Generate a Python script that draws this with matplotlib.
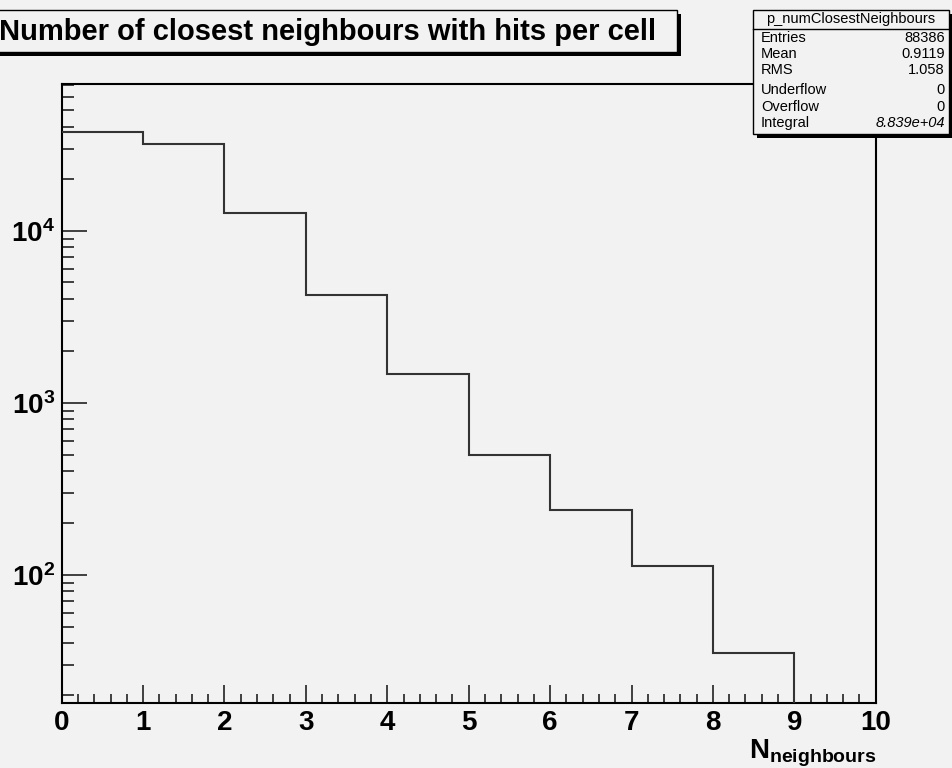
import math
import matplotlib
matplotlib.use("Agg")
import matplotlib.pyplot as plt
from matplotlib.patches import Rectangle
from matplotlib.ticker import FixedLocator, LogLocator, NullFormatter, FuncFormatter

# ---- data ----
bin_edges = [0, 1, 2, 3, 4, 5, 6, 7, 8, 9, 10]
counts = [37300, 31900, 12600, 4220, 1460, 494, 237, 113, 35, 0]
x_ticks = [0, 1, 2, 3, 4, 5, 6, 7, 8, 9, 10]
y_ticks = [1e2, 1e3, 1e4]
title = "Number of closest neighbours with hits per cell"
hist_name = "p_numClosestNeighbours"
stat_names = ["Entries", "Mean", "RMS", "Underflow", "Overflow", "Integral"]
stat_values = ["88386", "0.9119", "1.058", "0", "0", "8.839e+04"]
y_range = (17.9, 71200)

plt.rcParams['font.family'] = ['Liberation Sans', 'DejaVu Sans']
plt.rcParams['mathtext.fontset'] = 'custom'
plt.rcParams['mathtext.bf'] = 'Liberation Sans:bold'
plt.rcParams['mathtext.rm'] = 'Liberation Sans'
plt.rcParams['mathtext.it'] = 'Liberation Sans:italic'

W, H = 953, 768
BG = '#f2f2f2'
fig = plt.figure(figsize=(W / 100, H / 100), dpi=100, facecolor=BG)

def fx(x):
    return x / W

def fy(y):
    return 1 - y / H

left, right, top, bottom = 61.7, 875.7, 84, 703.3
ax = fig.add_axes([fx(left), fy(bottom), fx(right) - fx(left), fy(top) - fy(bottom)])
ax.set_facecolor(BG)
ax.set_yscale('log')

ax.stairs(counts, bin_edges, baseline=None, color='#333333', linewidth=1.5, zorder=3)

ax.set_xlim(bin_edges[0], bin_edges[-1])
ax.set_ylim(*y_range)

for s in ax.spines.values():
    s.set_linewidth(1.5)
    s.set_color('black')

ax.xaxis.set_major_locator(FixedLocator(x_ticks))
ax.xaxis.set_minor_locator(FixedLocator([i * 0.2 for i in range(51)]))
ax.set_xticklabels([str(t) for t in x_ticks])
ax.yaxis.set_major_locator(FixedLocator(y_ticks))
ax.yaxis.set_minor_locator(LogLocator(base=10, subs=range(2, 10)))
ax.yaxis.set_minor_formatter(NullFormatter())
ax.yaxis.set_major_formatter(FuncFormatter(lambda v, p: r'$\mathbf{10^{%d}}$' % round(math.log10(v))))

ax.tick_params(axis='both', which='both', direction='in', top=False, right=False, width=1.2, color='#222222')
ax.tick_params(axis='y', which='major', length=18, pad=5)
ax.tick_params(axis='y', which='minor', length=8.5)
ax.tick_params(axis='x', which='major', length=13, pad=5)
ax.tick_params(axis='x', which='minor', length=6.5)
for lab in ax.get_xticklabels():
    lab.set_fontweight('bold')
    lab.set_fontsize(20)
for lab in ax.get_yticklabels():
    lab.set_fontsize(20)

# x axis label
fig.text(fx(876), fy(758.5), r'$\mathbf{N_{neighbours}}$', ha='right', va='baseline', fontsize=20)

# title box
shadow = Rectangle((fx(-10) + fx(4), fy(52) - 4 / H), fx(687), (52 - 10) / H,
                   transform=fig.transFigure, facecolor='black', edgecolor='none', zorder=5)
box = Rectangle((fx(-10), fy(52)), fx(687), (52 - 10) / H,
                transform=fig.transFigure, facecolor=BG, edgecolor='black', linewidth=1, zorder=6)
fig.add_artist(shadow)
fig.add_artist(box)
fig.text(fx(-1), fy(32), title, ha='left', va='center', fontsize=21, fontweight='bold', zorder=7)

# stats box
sx0, sx1, sy0, sy1 = 753, 949, 10, 134
fig.add_artist(Rectangle((fx(sx0 + 4), fy(sy1 + 4)), fx(sx1 - sx0), (sy1 - sy0) / H,
                         transform=fig.transFigure, facecolor='black', edgecolor='none', zorder=5))
fig.add_artist(Rectangle((fx(sx0), fy(sy1)), fx(sx1 - sx0), (sy1 - sy0) / H,
                         transform=fig.transFigure, facecolor=BG, edgecolor='black', linewidth=1, zorder=6))
fig.add_artist(plt.Line2D([fx(sx0), fx(sx1)], [fy(29), fy(29)], transform=fig.transFigure,
                          color='black', linewidth=1, zorder=7))
fig.text(fx((sx0 + sx1) / 2), fy(19), hist_name, ha='center', va='center', fontsize=10.5, zorder=8)
row_y = [37.5, 53.5, 70, 90.5, 107, 123]
for name, val, yy in zip(stat_names, stat_values, row_y):
    fig.text(fx(sx0 + 8), fy(yy), name, ha='left', va='center', fontsize=10.5, zorder=8)
    fig.text(fx(sx1 - 4), fy(yy), val, ha='right', va='center', fontsize=10.5, zorder=8,
             style='italic' if name == 'Integral' else 'normal')

fig.savefig('out.png', dpi=100, facecolor=BG)
